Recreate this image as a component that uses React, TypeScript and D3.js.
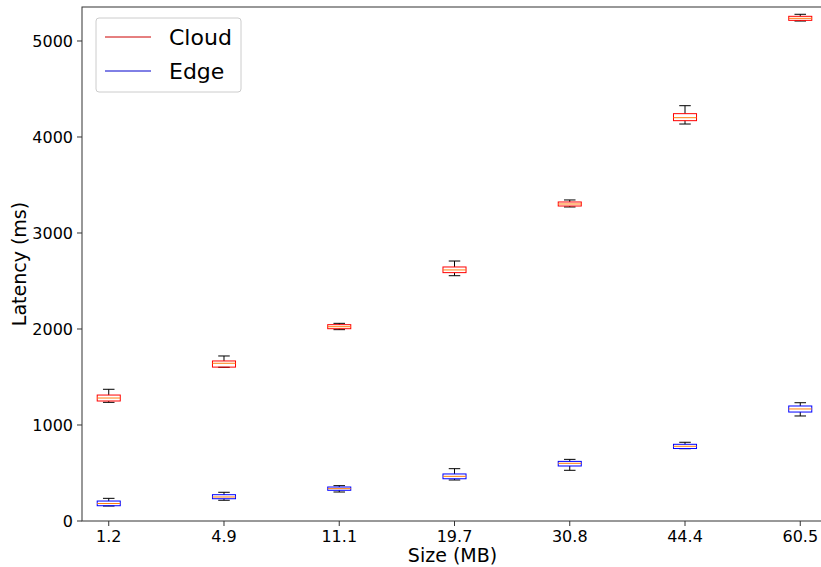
import React from "react";
import * as d3 from "d3";

// sizes in MB (x categories)
const sizes = ["1.2", "4.9", "11.1", "19.7", "30.8", "44.4", "60.5"];

// [lower whisker, q1, median, q3, upper whisker] in ms
const cloudStats = [
  [1236, 1250, 1281, 1312, 1372],
  [1601, 1603, 1643, 1667, 1719],
  [1993, 2003, 2024, 2045, 2059],
  [2555, 2587, 2615, 2646, 2708],
  [3271, 3281, 3302, 3323, 3344],
  [4135, 4170, 4201, 4243, 4326],
  [5208, 5215, 5236, 5257, 5278],
];

const edgeStats = [
  [156, 159, 182, 208, 236],
  [216, 232, 250, 274, 299],
  [302, 320, 337, 354, 368],
  [427, 440, 465, 490, 545],
  [528, 573, 601, 621, 642],
  [753, 755, 778, 799, 820],
  [1094, 1135, 1167, 1198, 1232],
];

const yTicks = [0, 1000, 2000, 3000, 4000, 5000];

const W = 821;
const H = 567;
const left = 82;
const right = 827;
const top = 7;
const bottom = 521;

const font = "'DejaVu Sans', sans-serif";

const x = d3.scaleLinear().domain([0.768, 7.232]).range([left, right]);
const y = d3.scaleLinear().domain([0, 5354]).range([bottom, top]);

const boxW = x(1.2) - x(1); // widths = 0.2
const capW = boxW / 2;

const BoxSeries = ({ stats, color }: { stats: number[][]; color: string }) => (
  <g>
    {stats.map((s, i) => {
      const cx = x(i + 1);
      const [lo, q1, med, q3, hi] = s;
      return (
        <g key={i}>
          {/* whiskers */}
          <line x1={cx} x2={cx} y1={y(q3)} y2={y(hi)} stroke="#000" strokeWidth={1} />
          <line x1={cx} x2={cx} y1={y(q1)} y2={y(lo)} stroke="#000" strokeWidth={1} />
          {/* caps */}
          <line x1={cx - capW / 2} x2={cx + capW / 2} y1={y(hi)} y2={y(hi)} stroke="#000" strokeWidth={1} />
          <line x1={cx - capW / 2} x2={cx + capW / 2} y1={y(lo)} y2={y(lo)} stroke="#000" strokeWidth={1} />
          {/* box */}
          <rect
            x={cx - boxW / 2}
            y={y(q3)}
            width={boxW}
            height={y(q1) - y(q3)}
            fill="none"
            stroke={color}
            strokeWidth={1}
          />
          {/* median */}
          <line
            x1={cx - boxW / 2}
            x2={cx + boxW / 2}
            y1={y(med)}
            y2={y(med)}
            stroke="#ff7f0e"
            strokeWidth={1}
          />
        </g>
      );
    })}
  </g>
);

export default function App() {
  return (
    <svg
      width={W}
      height={H}
      style={{ position: "absolute", left: 0, top: 0, background: "#fff" }}
      fontFamily={font}
    >
      <defs>
        <clipPath id="plot">
          <rect x={left} y={top} width={right - left} height={bottom - top} />
        </clipPath>
      </defs>

      <g clipPath="url(#plot)">
        <BoxSeries stats={cloudStats} color="red" />
        <BoxSeries stats={edgeStats} color="blue" />
      </g>

      {/* spines */}
      <rect
        x={left}
        y={top}
        width={right - left}
        height={bottom - top}
        fill="none"
        stroke="#333"
        strokeWidth={1}
      />

      {/* y axis */}
      {yTicks.map((t) => (
        <g key={t} transform={`translate(0,${y(t)})`}>
          <line x1={left - 5} x2={left} stroke="#333" />
          <text x={left - 9} dy="0.35em" textAnchor="end" fontSize={16} fill="#000">
            {t}
          </text>
        </g>
      ))}
      <text
        transform={`translate(26,${(top + bottom) / 2}) rotate(-90)`}
        textAnchor="middle"
        fontSize={19}
        fill="#000"
      >
        Latency (ms)
      </text>

      {/* x axis */}
      {sizes.map((s, i) => (
        <g key={s} transform={`translate(${x(i + 1)},0)`}>
          <line y1={bottom} y2={bottom + 5} stroke="#333" />
          <text y={bottom + 21} textAnchor="middle" fontSize={16} fill="#000">
            {s}
          </text>
        </g>
      ))}
      <text x={(left + right) / 2 - 2} y={562} textAnchor="middle" fontSize={19} fill="#000">
        Size (MB)
      </text>

      {/* legend */}
      <g>
        <rect x={96} y={18} width={145} height={74} rx={3} fill="#fff" stroke="#ccc" strokeWidth={1} />
        <line x1={105} x2={151} y1={37} y2={37} stroke="#c00" strokeWidth={1} />
        <text x={169} y={37} dy="0.35em" fontSize={22} fill="#000">
          Cloud
        </text>
        <line x1={105} x2={151} y1={71} y2={71} stroke="#00c" strokeWidth={1} />
        <text x={169} y={71} dy="0.35em" fontSize={22} fill="#000">
          Edge
        </text>
      </g>
    </svg>
  );
}
